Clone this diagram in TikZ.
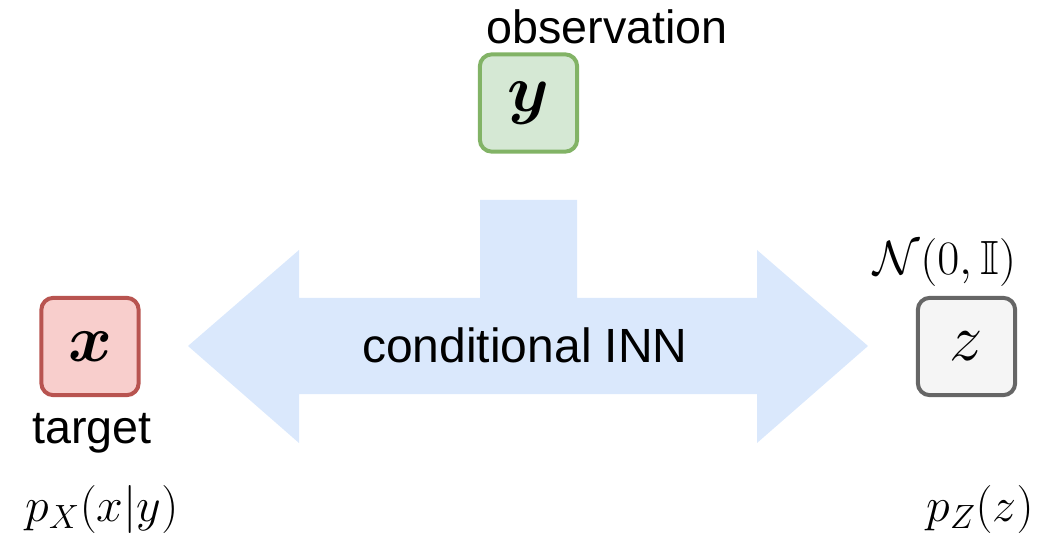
\documentclass[tikz,border=0pt]{standalone}
\usepackage{fix-cm}
\usepackage{amsmath,amssymb,bm}
\usepackage{fontspec}
\setmainfont{Liberation Sans}
\usetikzlibrary{positioning}
\definecolor{obsfill}{HTML}{D5E8D4}
\definecolor{obsdraw}{HTML}{82B366}
\definecolor{tgtfill}{HTML}{F8CECC}
\definecolor{tgtdraw}{HTML}{B85450}
\definecolor{latfill}{HTML}{F5F5F5}
\definecolor{latdraw}{HTML}{666666}
\definecolor{innblue}{HTML}{DAE8FC}

\begin{document}
\begin{tikzpicture}[x=0.75pt, y=-0.75pt,
      var/.style={rectangle, draw, line width=3pt, rounded corners=9pt,
                  minimum size=73pt, inner sep=0pt, font=\fontsize{50}{60}\selectfont},
      lbl/.style={font=\fontsize{35}{42}\selectfont, inner sep=0pt, anchor=base},
      dens/.style={font=\fontsize{36}{42}\selectfont, inner sep=0pt, anchor=base}]
    \useasboundingbox (0,0) rectangle (1056,534);
    % conditional INN as a double arrow with a stem for y
    \fill[innblue] (480,200) -- (577,200) -- (577,298) -- (757,298) -- (757,250)
      -- (868,346) -- (757,443) -- (757,394) -- (299,394) -- (299,443)
      -- (188,346) -- (299,250) -- (299,298) -- (480,298) -- cycle;
    \node[lbl, font=\fontsize{36}{42}\selectfont] (inn) at (525,363) {conditional INN};
    % variables
    \node[var, fill=obsfill, draw=obsdraw] (y) at (528.5,103) {$\bm{y}$};
    \node[var, fill=tgtfill, draw=tgtdraw] (x) at (90,346.5) {$\bm{x}$};
    \node[var, fill=latfill, draw=latdraw] (z) at (966.5,346.5) {$z$};
    \node[lbl] (obs) at (607,44) {observation};
    \node[lbl] (tgt) at (92,443) {target};
    \node[dens] (prior) at (945,275) {$\mathcal{N}(0,\mathbb{I})$};
    \node[dens] (px) at (102,521) {$p_X(x|y)$};
    \node[dens] (pz) at (980,521) {$p_Z(z)$};
  \end{tikzpicture}
\end{document}
